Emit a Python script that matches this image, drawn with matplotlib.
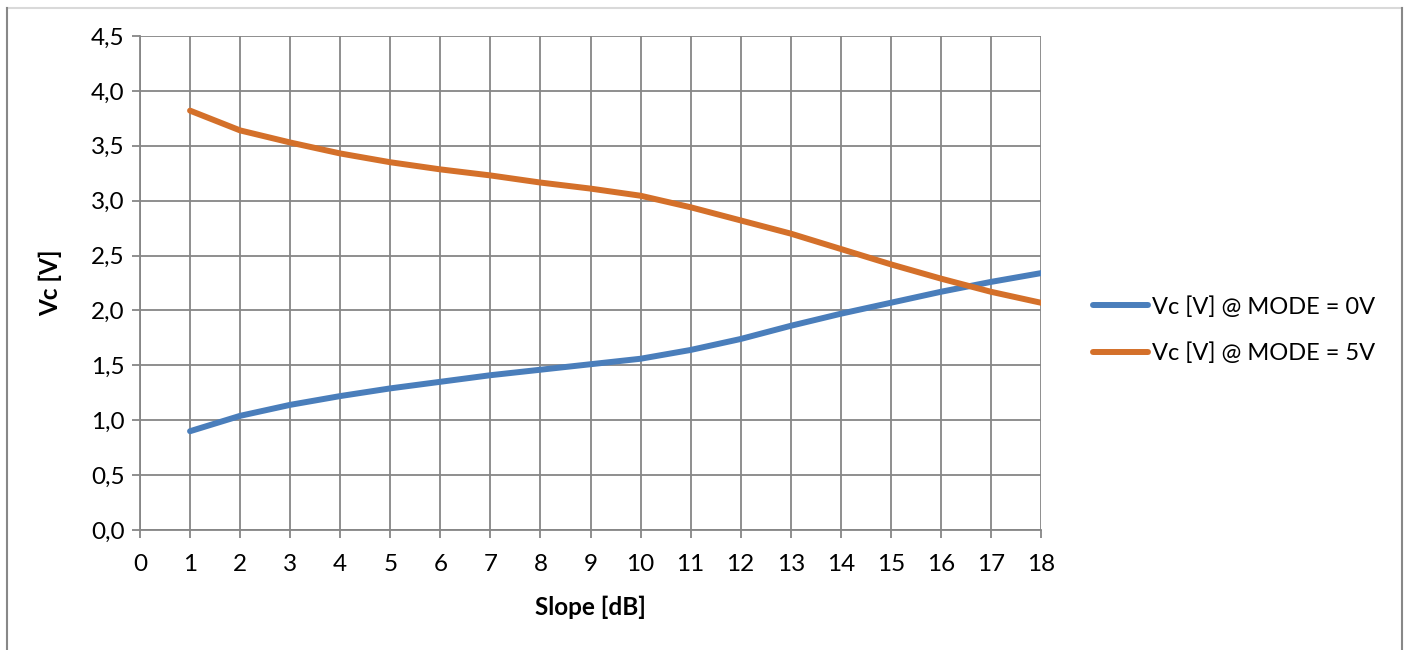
import matplotlib.pyplot as plt
from matplotlib.ticker import FuncFormatter, MultipleLocator
from matplotlib.lines import Line2D

plt.rcParams['font.family'] = ['Lato', 'DejaVu Sans']

# data
slope_db = [1, 2, 3, 4, 5, 6, 7, 8, 9, 10, 11, 12, 13, 14, 15, 16, 17, 18]
vc_mode0 = [0.90, 1.04, 1.14, 1.22, 1.29, 1.35, 1.41, 1.46, 1.51, 1.56, 1.64, 1.74, 1.86, 1.97, 2.07, 2.17, 2.26, 2.34]
vc_mode5 = [3.82, 3.64, 3.53, 3.43, 3.35, 3.285, 3.23, 3.165, 3.11, 3.045, 2.94, 2.82, 2.70, 2.56, 2.42, 2.29, 2.17, 2.07]
labels = ['Vc [V] @ MODE = 0V', 'Vc [V] @ MODE = 5V']

grid_col = '#868686'
fs = 17.5
fs_leg = 17

fig = plt.figure(figsize=(14.07, 6.5), dpi=100)
ax = fig.add_axes([140 / 1407, 1 - 530 / 650, 901 / 1407, 494 / 650])

l1, = ax.plot(slope_db, vc_mode0, color='#4a7ebb', lw=4.3, solid_capstyle='round', label=labels[0])
l2, = ax.plot(slope_db, vc_mode5, color='#d4702a', lw=4.3, solid_capstyle='round', label=labels[1])

ax.set_xlim(0, 18)
ax.set_ylim(0, 4.5)
ax.xaxis.set_major_locator(MultipleLocator(1))
ax.yaxis.set_major_locator(MultipleLocator(0.5))
ax.yaxis.set_major_formatter(FuncFormatter(lambda v, p: f'{v:.1f}'.replace('.', ',')))

ax.grid(True, color=grid_col, lw=1.3)
ax.set_axisbelow(True)
for s in ['top', 'right']:
    ax.spines[s].set_visible(False)
for s in ['left', 'bottom']:
    ax.spines[s].set_color(grid_col)
    ax.spines[s].set_linewidth(1.3)
ax.tick_params(axis='both', direction='out', length=6, width=1.3, color=grid_col,
               labelsize=fs)
ax.tick_params(axis='x', pad=11)
ax.tick_params(axis='y', pad=5)

ax.set_xlabel('Slope [dB]', fontsize=fs, fontweight='bold', labelpad=15)
ax.set_ylabel('Vc [V]', fontsize=fs, fontweight='bold', labelpad=21)

fig.legend(handles=[l1, l2], loc='center left', bbox_to_anchor=(1093 / 1407, 1 - 330 / 650),
           frameon=False, fontsize=fs_leg, handlelength=2.33, handletextpad=0.17,
           labelspacing=1.05, borderpad=0, borderaxespad=0)

# outer chart border like the spreadsheet export
fig.add_artist(Line2D([7 / 1407, 1402 / 1407], [1 - 8 / 650, 1 - 8 / 650],
                      transform=fig.transFigure, color='#d9d9d9', lw=1.5))
fig.add_artist(Line2D([7 / 1407, 7 / 1407], [0, 1 - 8 / 650],
                      transform=fig.transFigure, color='#888888', lw=1.5))
fig.add_artist(Line2D([1402 / 1407, 1402 / 1407], [0, 1 - 8 / 650],
                      transform=fig.transFigure, color='#888888', lw=1.5))

fig.savefig('out.png', dpi=100)
